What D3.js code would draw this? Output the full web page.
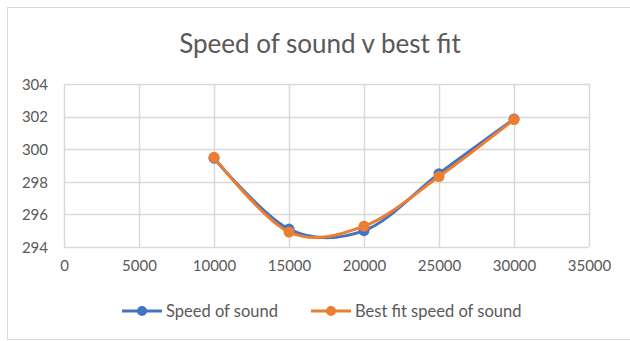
<!DOCTYPE html>
<html>
<head>
<meta charset="utf-8">
<script src="https://cdn.jsdelivr.net/npm/d3@7"></script>
<style>
  body { margin: 0; background: #fff; }
  text { font-family: Lato, "Open Sans", sans-serif; fill: #595959; }
</style>
</head>
<body>
<div id="vis"></div>
<script>
var altitudes = [10000, 15000, 20000, 25000, 30000];
var speedOfSound = [299.45, 295.1, 295.0, 298.5, 301.85];
var bestFitSpeed = [299.5, 294.92, 295.28, 298.32, 301.82];
var xTicks = [0, 5000, 10000, 15000, 20000, 25000, 30000, 35000];
var yTicks = [294, 296, 298, 300, 302, 304];
var seriesNames = ["Speed of sound", "Best fit speed of sound"];
var seriesColors = ["#4472C4", "#ED7D31"];

var width = 630, height = 341;
var margin = {left: 64, right: 41, top: 84, bottom: 94};

var svg = d3.select("#vis").append("svg")
  .attr("width", width).attr("height", height);

// chart border
svg.append("rect")
  .attr("x", 7.5).attr("y", 7.5)
  .attr("width", width).attr("height", 332)
  .attr("fill", "none").attr("stroke", "#d9d9d9").attr("stroke-width", 1);

var x = d3.scaleLinear().domain([0, 35000]).range([margin.left, width - margin.right]);
var y = d3.scaleLinear().domain([294, 304]).range([height - margin.bottom, margin.top]);

svg.append("text")
  .attr("x", 320).attr("y", 53)
  .attr("text-anchor", "middle")
  .style("font-size", "26px")
  .text("Speed of sound v best fit");

// gridlines
svg.append("g").selectAll("line").data(yTicks).enter().append("line")
  .attr("x1", x(0)).attr("x2", x(35000))
  .attr("y1", function(d){ return Math.round(y(d)) + 0.5; })
  .attr("y2", function(d){ return Math.round(y(d)) + 0.5; })
  .attr("stroke", "#d9d9d9").attr("stroke-width", 1.5);

svg.append("g").selectAll("line").data(xTicks).enter().append("line")
  .attr("y1", y(294)).attr("y2", y(304))
  .attr("x1", function(d){ return Math.round(x(d)) + 0.5; })
  .attr("x2", function(d){ return Math.round(x(d)) + 0.5; })
  .attr("stroke", "#d9d9d9").attr("stroke-width", 1.5);

// axes
var yAxis = svg.append("g")
  .attr("transform", "translate(" + (x(0) - 16) + ",0)")
  .call(d3.axisLeft(y).tickValues(yTicks).tickSize(0).tickPadding(0));
yAxis.select(".domain").remove();
yAxis.selectAll("text").style("font-size", "15px").attr("dy", "0.35em");

var xAxis = svg.append("g")
  .attr("transform", "translate(0," + (y(294) + 13) + ")")
  .call(d3.axisBottom(x).tickValues(xTicks).tickSize(0).tickPadding(0).tickFormat(d3.format("d")));
xAxis.select(".domain").remove();
xAxis.selectAll("text").style("font-size", "15px").attr("dy", "0.75em");

var line = d3.line()
  .x(function(d){ return x(d[0]); })
  .y(function(d){ return y(d[1]); })
  .curve(d3.curveCardinal.tension(0));

[speedOfSound, bestFitSpeed].forEach(function(values, i){
  var pts = altitudes.map(function(a, j){ return [a, values[j]]; });
  svg.append("path").datum(pts)
    .attr("d", line)
    .attr("fill", "none")
    .attr("stroke", seriesColors[i])
    .attr("stroke-width", 3)
    .attr("stroke-linecap", "round");
  svg.append("g").selectAll("circle").data(pts).enter().append("circle")
    .attr("cx", function(d){ return x(d[0]); })
    .attr("cy", function(d){ return y(d[1]); })
    .attr("r", 5.5)
    .attr("fill", seriesColors[i]);
});

// legend
var legendX = [122, 311];
seriesNames.forEach(function(name, i){
  var g = svg.append("g").attr("transform", "translate(" + legendX[i] + ",311)");
  g.append("line").attr("x1", 0).attr("x2", 40).attr("y1", 0).attr("y2", 0)
    .attr("stroke", seriesColors[i]).attr("stroke-width", 3);
  g.append("circle").attr("cx", 20).attr("cy", 0).attr("r", 5).attr("fill", seriesColors[i]);
  g.append("text").attr("x", 44).attr("y", 0).attr("dy", "0.35em")
    .style("font-size", "16.5px").text(name);
});
</script>
</body>
</html>
